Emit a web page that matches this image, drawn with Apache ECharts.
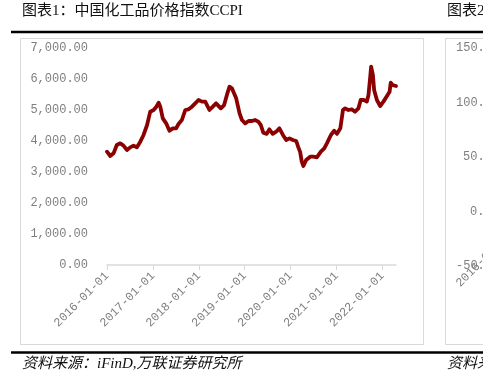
<!DOCTYPE html>
<html>
<head>
<meta charset="utf-8">
<script src="https://cdn.jsdelivr.net/npm/echarts@6/dist/echarts.min.js"></script>
<style>
html,body{margin:0;padding:0;background:#fff;}
#chart{width:483px;height:382px;}
</style>
</head>
<body>
<div id="chart"></div>
<script>
// ---- data ----
var dates = [
 '2016-01-01','2016-01-27','2016-02-22','2016-03-19','2016-04-15','2016-05-11','2016-06-08','2016-07-04',
 '2016-07-30','2016-08-26','2016-09-22','2016-10-18','2016-11-15','2016-12-10','2017-01-06','2017-01-28',
 '2017-02-15','2017-02-28','2017-03-20','2017-04-16','2017-05-12','2017-06-08','2017-07-04','2017-07-23',
 '2017-08-19','2017-09-15','2017-10-11','2017-11-07','2017-12-03','2017-12-29','2018-01-26','2018-02-21',
 '2018-03-26','2018-04-22','2018-05-18','2018-06-25','2018-07-21','2018-08-16','2018-09-02','2018-09-21',
 '2018-10-03','2018-10-25','2018-11-21','2018-12-10','2019-01-05','2019-02-01','2019-02-28','2019-03-24',
 '2019-04-19','2019-05-09','2019-05-29','2019-06-25','2019-07-16','2019-08-12','2019-09-08','2019-10-04',
 '2019-11-01','2019-11-27','2019-12-23','2020-01-19','2020-02-15','2020-03-03','2020-03-17','2020-03-30',
 '2020-04-12','2020-05-04','2020-06-05','2020-07-01','2020-07-28','2020-08-29','2020-09-25','2020-10-16',
 '2020-11-17','2020-12-13','2021-01-04','2021-01-31','2021-02-21','2021-03-10','2021-04-05','2021-05-02',
 '2021-05-28','2021-06-24','2021-07-12','2021-08-08','2021-08-30','2021-09-12','2021-09-26','2021-10-03',
 '2021-10-17','2021-10-27','2021-11-18','2021-12-14','2022-01-09','2022-02-06','2022-02-27','2022-03-08',
 '2022-03-24','2022-04-19'
];
var ccpi = [
 3655,3516,3602,3871,3925,3850,3710,3795,
 3850,3800,3978,4194,4516,4946,5000,5107,
 5237,5107,4731,4570,4333,4409,4409,4548,
 4677,5000,5022,5107,5215,5322,5270,5268,
 5000,5107,5215,5054,5160,5538,5752,5700,
 5645,5377,4892,4677,4570,4645,4645,4677,
 4624,4516,4268,4230,4376,4230,4300,4409,
 4194,4032,4085,4032,4000,3796,3650,3333,
 3193,3387,3494,3494,3473,3656,3763,3925,
 4194,4333,4230,4409,5000,5054,5000,5022,
 4946,5054,5322,5322,5270,5484,6075,6398,
 6129,5645,5322,5129,5270,5452,5591,5881,
 5800,5774
];
var xTickLabels = ['2016-01-01','2017-01-01','2018-01-01','2019-01-01','2020-01-01','2021-01-01','2022-01-01'];
var yTicks = [0,1000,2000,3000,4000,5000,6000,7000];
var chart2YLabels = ['150.00','100.00','50.00','0.00','-50.00'];

var titleText = '图表1：中国化工品价格指数CCPI';
var sourceText = '资料来源：iFinD,万联证券研究所';

// ---- chart ----
function ts(d){ var p = d.split('-'); return Date.UTC(+p[0], +p[1]-1, +p[2]); }
function fmt(v){ var d = new Date(v); function z(n){return (n<10?'0':'')+n;} return d.getUTCFullYear()+'-'+z(d.getUTCMonth()+1)+'-'+z(d.getUTCDate()); }

var el = document.getElementById('chart');
var chart = echarts.init(el, null, {renderer:'canvas', width:483, height:382});

var tickTs = xTickLabels.map(ts);
var seriesData = dates.map(function(d,i){ return [ts(d), ccpi[i]]; });

var monoFont = '"Liberation Mono", "DejaVu Sans Mono", monospace';
var cjkFont = '"Liberation Serif", "Noto Sans CJK SC", serif';

var graphics = [
  {type:'text', left:22, top:4, style:{text:titleText, font:'15px ' + cjkFont, fill:'#111'}},
  {type:'text', left:447, top:4, style:{text:'图表2：', font:'15px ' + cjkFont, fill:'#111'}},
  {type:'line', shape:{x1:11,y1:32,x2:483,y2:32}, style:{stroke:'#000', lineWidth:2.5}},
  {type:'line', shape:{x1:11,y1:352.5,x2:483,y2:352.5}, style:{stroke:'#000', lineWidth:2.5}},
  {type:'rect', shape:{x:20.5,y:38.5,width:403,height:306}, style:{fill:'none', stroke:'#d9d9d9', lineWidth:1}, z:-1},
  {type:'rect', shape:{x:445.5,y:38.5,width:60,height:306}, style:{fill:'none', stroke:'#d9d9d9', lineWidth:1}, z:-1},
  {type:'text', left:22, top:357, style:{text:sourceText, font:'italic 15px ' + cjkFont, fill:'#111'}},
  {type:'text', left:447, top:357, style:{text:'资料来源', font:'italic 15px ' + cjkFont, fill:'#111'}},
  {type:'text', x:458, y:285, rotation:Math.PI/4, style:{text:'2016-01-01', font:'12px ' + monoFont, fill:'#7f7f7f', align:'left', verticalAlign:'middle'}}
];
var ys2 = [48, 102.5, 157, 211.5, 266];
var xs2 = [456, 456, 463, 470, 456];
chart2YLabels.forEach(function(t,i){
  graphics.push({type:'text', x:xs2[i], y:ys2[i], style:{text:t, font:'12px ' + monoFont, fill:'#7f7f7f', align:'left', verticalAlign:'middle'}});
});

var option = {
  animation:false,
  backgroundColor:'#fff',
  grid:{left:107, right:87, top:48, bottom:117},
  xAxis:{
    type:'value',
    min:ts(dates[0]),
    max:ts(dates[dates.length-1]),
    axisLine:{show:true, lineStyle:{color:'#d9d9d9', width:1.5}},
    axisTick:{show:true, length:5, lineStyle:{color:'#d9d9d9'}, customValues:tickTs},
    axisLabel:{
      rotate:45, margin:9, color:'#7f7f7f', fontSize:12, fontFamily:monoFont,
      customValues:tickTs,
      formatter:function(v){ return fmt(v); }
    },
    splitLine:{show:false}
  },
  yAxis:{
    type:'value',
    min:yTicks[0], max:yTicks[yTicks.length-1], interval:1000,
    axisLine:{show:false}, axisTick:{show:false},
    splitLine:{show:false},
    axisLabel:{
      margin:19, color:'#7f7f7f', fontSize:12, fontFamily:monoFont,
      formatter:function(v){ return v.toLocaleString('en-US',{minimumFractionDigits:2, maximumFractionDigits:2}); }
    }
  },
  series:[{
    type:'line', data:seriesData, showSymbol:false, symbol:'none',
    lineStyle:{color:'#8b0000', width:3.8, join:'round', cap:'round'},
    itemStyle:{color:'#8b0000'}
  }],
  graphic:graphics
};
chart.setOption(option);
</script>
</body>
</html>
